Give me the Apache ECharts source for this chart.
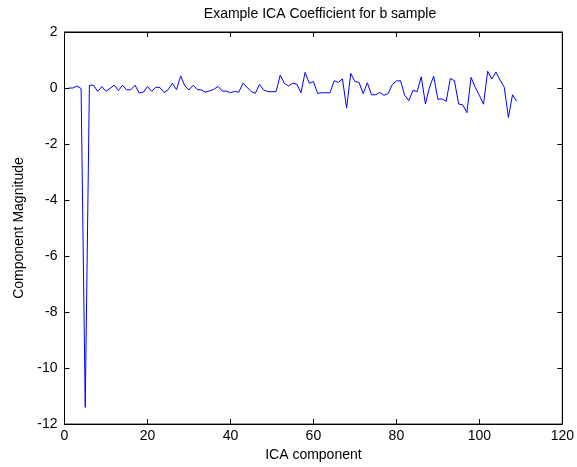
<!DOCTYPE html>
<html>
<head>
<meta charset="utf-8">
<script src="https://cdn.jsdelivr.net/npm/echarts@6/dist/echarts.min.js"></script>
<style>html,body{margin:0;padding:0;background:#fff;}#c{width:577px;height:467px;}</style>
</head>
<body>
<div id="c"></div>
<script>
const titleText = 'Example ICA Coefficient for b sample';
const xLabel = 'ICA component';
const yLabel = 'Component Magnitude';
const xTicks = [0, 20, 40, 60, 80, 100, 120];
const yTicks = [-12, -10, -8, -6, -4, -2, 0, 2];
const magnitudes = [
  0.0, 0.0, 0.07, -0.02, -11.4, 0.1, 0.1, -0.12, 0.05, -0.12,
  -0.01, 0.1, -0.09, 0.1, -0.07, -0.06, 0.1, -0.18, -0.15, 0.05,
  -0.12, 0.03, 0.02, -0.16, -0.06, 0.17, -0.06, 0.43, 0.08, -0.07,
  0.1, -0.05, -0.07, -0.15, -0.1, -0.05, 0.06, -0.11, -0.11, -0.17,
  -0.12, -0.15, 0.17, 0.03, -0.13, -0.19, 0.13, -0.07, -0.13, -0.13,
  -0.13, 0.46, 0.17, 0.07, 0.17, 0.14, -0.17, 0.56, 0.17, 0.23,
  -0.19, -0.17, -0.17, -0.17, 0.26, 0.2, 0.33, -0.72, 0.52, 0.23,
  0.2, -0.2, 0.19, -0.24, -0.24, -0.16, -0.26, -0.2, 0.12, 0.25,
  0.26, -0.26, -0.45, -0.08, -0.13, 0.4, -0.57, 0.04, 0.42, -0.4,
  -0.39, -0.48, 0.34, 0.26, -0.57, -0.6, -0.88, 0.38, 0.03, -0.26,
  -0.58, 0.6, 0.32, 0.57, 0.28, 0.03, -1.05, -0.24, -0.47
];

const FONT = 'Liberation Sans, Arial, Helvetica, sans-serif';
const seriesData = magnitudes.map((v, i) => [i + 1, v]);
const xMin = xTicks[0], xMax = xTicks[xTicks.length - 1];
const yMin = yTicks[0], yMax = yTicks[yTicks.length - 1];
const xStep = xTicks[1] - xTicks[0];
const yStep = yTicks[1] - yTicks[0];

const axisLineStyle = { show: true, onZero: false, lineStyle: { color: '#000', width: 1 } };
const tickStyle = { show: true, inside: true, length: 5, lineStyle: { color: '#000', width: 1 } };

const chart = echarts.init(document.getElementById('c'), null, { renderer: 'canvas' });
chart.setOption({
  animation: false,
  backgroundColor: '#fff',
  title: {
    text: titleText,
    left: 315, top: 2, textAlign: 'center',
    textStyle: { fontFamily: FONT, fontSize: 14, fontWeight: 'normal', color: '#000' }
  },
  grid: { left: 64.5, right: 14, top: 32, bottom: 42, containLabel: false,
          show: true, borderColor: '#000', borderWidth: 1, backgroundColor: '#fff' },
  xAxis: [
    { type: 'value', min: xMin, max: xMax, interval: xStep, position: 'bottom',
      name: xLabel, nameLocation: 'middle', nameGap: 22,
      nameTextStyle: { fontFamily: FONT, fontSize: 14, color: '#000' },
      axisLine: axisLineStyle, axisTick: tickStyle,
      axisLabel: { fontFamily: FONT, fontSize: 14, color: '#000', margin: 5 },
      splitLine: { show: false } },
    { type: 'value', min: xMin, max: xMax, interval: xStep, position: 'top',
      axisLine: axisLineStyle, axisTick: tickStyle, axisLabel: { show: false },
      splitLine: { show: false } }
  ],
  yAxis: [
    { type: 'value', min: yMin, max: yMax, interval: yStep, position: 'left',
      name: yLabel, nameLocation: 'middle', nameGap: 38, nameRotate: 90,
      nameTextStyle: { fontFamily: FONT, fontSize: 14, color: '#000' },
      axisLine: axisLineStyle, axisTick: tickStyle,
      axisLabel: { fontFamily: FONT, fontSize: 14, color: '#000', margin: 7 },
      splitLine: { show: false } },
    { type: 'value', min: yMin, max: yMax, interval: yStep, position: 'right',
      axisLine: axisLineStyle, axisTick: tickStyle, axisLabel: { show: false },
      splitLine: { show: false } }
  ],
  series: [{
    type: 'line', xAxisIndex: 0, yAxisIndex: 0,
    data: seriesData, showSymbol: false, symbol: 'none',
    lineStyle: { color: '#0000ff', width: 1 }, itemStyle: { color: '#0000ff' }
  }]
});
</script>
</body>
</html>
